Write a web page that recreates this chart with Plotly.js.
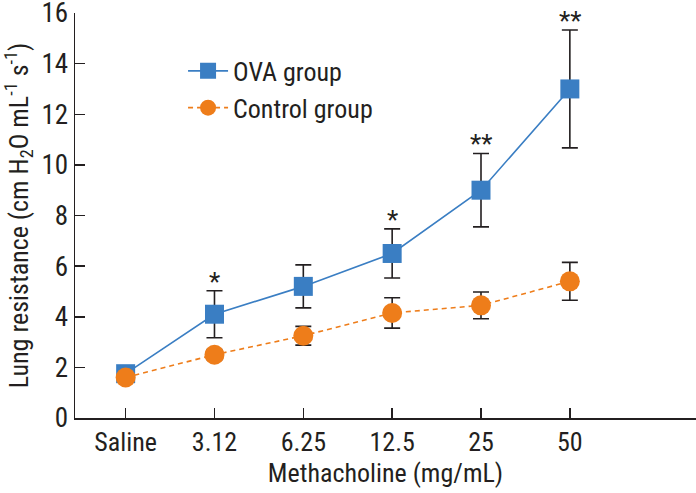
<!DOCTYPE html>
<html>
<head>
<meta charset="utf-8">
<script src="https://cdn.plot.ly/plotly-3.0.1.min.js"></script>
<style>html,body{margin:0;padding:0;background:#fff;}#chart{width:696px;height:493px;}</style>
</head>
<body>
<div id="chart"></div>
<script>
const categories = ["Saline", "3.12", "6.25", "12.5", "25", "50"];
const ovaValues = [1.75, 4.1, 5.2, 6.5, 9.0, 13.0];
const ovaErr = [0.1, 0.93, 0.85, 0.97, 1.45, 2.33];
const controlValues = [1.6, 2.5, 3.25, 4.15, 4.45, 5.4];
const controlErr = [0.1, 0.2, 0.37, 0.6, 0.53, 0.75];
const significance = ["", "*", "", "*", "**", "**"];

const FONT = "'Liberation Sans Narrow', 'Arial Narrow', 'Roboto Condensed', 'DejaVu Sans Condensed', Roboto, sans-serif";
const INK = "#231f20";

const traces = [
  {
    x: categories, y: ovaValues, name: "OVA group", type: "scatter", mode: "lines+markers",
    line: {color: "#3a7ec3", width: 1.6},
    marker: {symbol: "square", size: 19, color: "#3a7ec3"},
    error_y: {type: "data", array: ovaErr, visible: true, color: INK, thickness: 1.6, width: 8}
  },
  {
    x: categories, y: controlValues, name: "Control group", type: "scatter", mode: "lines+markers",
    line: {color: "#ee7d1a", width: 1.6, dash: "5px,4px"},
    marker: {symbol: "circle", size: 20, color: "#ee7d1a"},
    error_y: {type: "data", array: controlErr, visible: true, color: INK, thickness: 1.6, width: 8}
  }
];

const annotations = [];
categories.forEach((c, i) => {
  if (significance[i]) {
    annotations.push({
      x: i, y: ovaValues[i] + ovaErr[i], xref: "x", yref: "y",
      text: significance[i], showarrow: false, yanchor: "bottom", yshift: -8,
      font: {family: FONT, size: 26, color: INK}
    });
  }
});

const layout = {
  width: 696, height: 493,
  margin: {l: 75, r: 0, t: 13, b: 75},
  paper_bgcolor: "#fff", plot_bgcolor: "#fff",
  font: {family: FONT, color: INK, size: 26},
  showlegend: true,
  legend: {x: 0.174, y: 0.915, xanchor: "left", yanchor: "top", bgcolor: "rgba(0,0,0,0)",
           itemwidth: 40,
           font: {family: FONT, size: 26, color: INK}, tracegroupgap: 0},
  xaxis: {
    type: "category", range: [-0.57, 6.42],
    showline: true, linecolor: INK, linewidth: 1.5,
    ticks: "inside", ticklen: 10, tickwidth: 1.5, tickcolor: INK,
    showgrid: false, zeroline: false,
    tickfont: {family: FONT, size: 26, color: INK},
    title: {text: "Methacholine (mg/mL)", font: {family: FONT, size: 26, color: INK}, standoff: 8}
  },
  yaxis: {
    range: [0, 16], tickvals: [0, 2, 4, 6, 8, 10, 12, 14, 16],
    showline: true, linecolor: INK, linewidth: 1.5,
    ticks: "inside", ticklen: 10, tickwidth: 1.5, tickcolor: INK,
    ticklabeloverflow: "allow",
    showgrid: false, zeroline: false,
    tickfont: {family: FONT, size: 27, color: INK},
    title: {text: "Lung resistance (cm H<sub>2</sub>O mL<sup>-1</sup> s<sup>-1</sup>)", font: {family: FONT, size: 26, color: INK}, standoff: 9}
  },
  annotations: annotations
};

Plotly.newPlot("chart", traces, layout, {displayModeBar: false, staticPlot: true});
</script>
</body>
</html>
